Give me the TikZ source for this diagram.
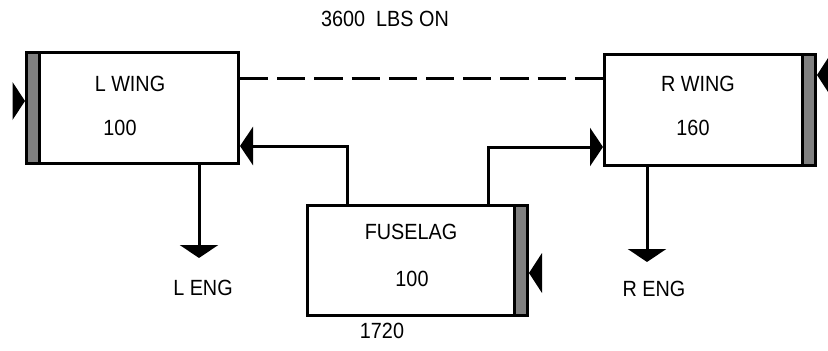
\documentclass[tikz,border=0pt]{standalone}
\usepackage{fontspec}
\setmainfont[FakeStretch=0.9]{Liberation Sans}
\usetikzlibrary{arrows.meta,calc}
\begin{document}
\begin{tikzpicture}[x=1pt,y=-1pt,
  box/.style={draw=black,line width=3pt,fill=white,inner sep=0pt},
  bar/.style={draw=black,line width=2.5pt,fill=gray},
  lbl/.style={inner sep=0pt,font=\fontsize{22}{26}\selectfont},
  conn/.style={draw=black,line width=3pt,-{Triangle[width=38pt,length=13pt]}},
  tri/.style={fill=black},
  dashline/.style={draw=black,line width=3pt,dash pattern=on 28.2pt off 9pt}]
\useasboundingbox (0,0) rectangle (828,351);
% boxes
\node[box,minimum width=212,minimum height=111] (lw) at (132.5,108) {};
\node[box,minimum width=211,minimum height=111] (rw) at (710,110) {};
\node[box,minimum width=220,minimum height=110] (fu) at (417.5,260.5) {};
% grey bars
\draw[bar] ([shift={(1.5pt,-1.5pt)}]lw.north west) rectangle ([shift={(14.5pt,1.5pt)}]lw.south west);
\draw[bar] ([shift={(-14.5pt,-1.5pt)}]rw.north east) rectangle ([shift={(-1.5pt,1.5pt)}]rw.south east);
\draw[bar] ([shift={(-14.5pt,-1.5pt)}]fu.north east) rectangle ([shift={(-1.5pt,1.5pt)}]fu.south east);
% labels
\node[lbl] (tlbl) at (385,19) {3600\ \ LBS ON};
\node[lbl] (lwt) at (130,84) {L WING};
\node[lbl] (lwn) at (120,128) {100};
\node[lbl] (rwt) at (698,84) {R WING};
\node[lbl] (rwn) at (693,128) {160};
\node[lbl] (fut) at (411,232) {FUSELAG};
\node[lbl] (fun) at (412,279) {100};
\node[lbl] (leng) at (203,288) {L ENG};
\node[lbl] (reng) at (654,289) {R ENG};
\node[lbl] (tot) at (382,331) {1720};
% dashed link
\draw[dashline] ([yshift=30pt]lw.east) -- ([yshift=32pt]rw.west);
% connectors
\draw[conn] ([xshift=-70.5pt]fu.north) |- ([yshift=-38pt]lw.east);
\draw[conn] ([xshift=70.5pt]fu.north) |- ([yshift=-37pt]rw.west);
\coordinate (le) at (199,258);
\coordinate (re) at (647,262);
\draw[conn] (lw.south -| le) -- (le);
\draw[conn] (rw.south -| re) -- (re);
% free input markers
\fill[tri] ([yshift=7pt]lw.west) -- ++(-12.5,-19) -- ++(0,38) -- cycle;
\fill[tri] ([yshift=35pt]rw.east) -- ++(13,-20) -- ++(0,40) -- cycle;
\fill[tri] ([yshift=-12.5pt]fu.east) -- ++(13,-20) -- ++(0,40) -- cycle;
\end{tikzpicture}
\end{document}
